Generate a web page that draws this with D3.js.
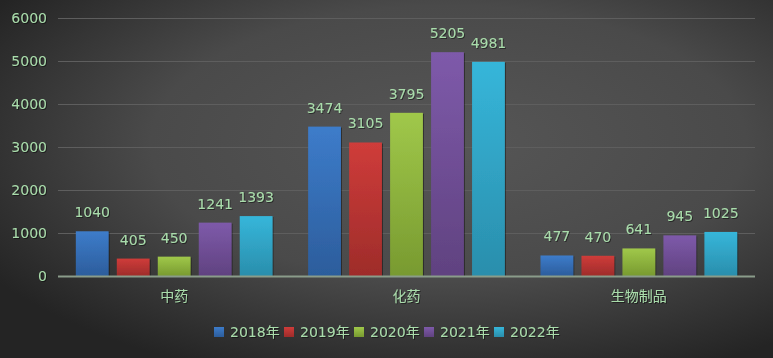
<!DOCTYPE html>
<html><head><meta charset="utf-8">
<script src="https://cdn.jsdelivr.net/npm/d3@7"></script>
<style>
html,body{margin:0;padding:0;background:#333;}
svg{display:block;}
text{font-family:"DejaVu Sans","Noto Sans CJK SC",sans-serif;}
</style></head><body>
<svg id="c" width="773" height="358"></svg>
<script>
const categories = ["中药", "化药", "生物制品"];
const seriesNames = ["2018年", "2019年", "2020年", "2021年", "2022年"];
const v2018 = [1040, 3474, 477];
const v2019 = [405, 3105, 470];
const v2020 = [450, 3795, 641];
const v2021 = [1241, 5205, 945];
const v2022 = [1393, 4981, 1025];
const seriesValues = [v2018, v2019, v2020, v2021, v2022];
const yTicks = [0, 1000, 2000, 3000, 4000, 5000, 6000];
const colorsTop = ["#3d7cca", "#cf3c3a", "#a0c84a", "#7e5aaa", "#36b6da"];
const colorsBot = ["#2c5d9c", "#9e2c2a", "#789a30", "#604280", "#2a8eac"];

(function(){
const W = 773, H = 358;
const svg = d3.select("#c");
const defs = svg.append("defs");

const bg = defs.append("radialGradient").attr("id","bg").attr("cx","0.58").attr("cy","0.4").attr("r","0.7");
bg.append("stop").attr("offset","0").attr("stop-color","#565656");
bg.append("stop").attr("offset","0.55").attr("stop-color","#4a4a4a");
bg.append("stop").attr("offset","1").attr("stop-color","#242424");
svg.append("rect").attr("width",W).attr("height",H).attr("fill","url(#bg)");

colorsTop.forEach((c,i)=>{
  const g = defs.append("linearGradient").attr("id","g"+i).attr("x1",0).attr("y1",0).attr("x2",0).attr("y2",1);
  g.append("stop").attr("offset",0).attr("stop-color",c);
  g.append("stop").attr("offset",1).attr("stop-color",colorsBot[i]);
});
const sh = defs.append("filter").attr("id","ts").attr("x","-20%").attr("y","-20%").attr("width","140%").attr("height","140%");
sh.append("feDropShadow").attr("dx",1).attr("dy",1).attr("stdDeviation",0.6).attr("flood-color","#000").attr("flood-opacity",0.45);

const mL = 58, mR = 755, mT = 18, mB = 276;
const y = d3.scaleLinear().domain([0, 6000]).range([mB, mT]);
const x0 = d3.scaleBand().domain(categories).range([mL, mR]).paddingInner(0).paddingOuter(0);
const x1 = d3.scaleBand().domain(seriesNames).range([17, x0.bandwidth()-17]).paddingInner(0.2).paddingOuter(0.02);

const txtColor = "#a9dcab";

svg.append("g").selectAll("line").data(yTicks.filter(t=>t>0)).join("line")
  .attr("x1", mL).attr("x2", mR)
  .attr("y1", d=>Math.round(y(d))+0.5).attr("y2", d=>Math.round(y(d))+0.5)
  .attr("stroke","#5e5e5e").attr("stroke-width",1);

const yAxis = d3.axisLeft(y).tickValues(yTicks).tickFormat(d3.format("d")).tickSize(0).tickPadding(0);
const ya = svg.append("g").attr("transform",`translate(${mL-11},0)`).call(yAxis);
ya.select(".domain").remove();
ya.selectAll("text").attr("fill",txtColor).attr("font-size",14).attr("font-weight","normal").attr("filter","url(#ts)").attr("dy","0.35em")
  .style("font-family",'"DejaVu Sans","Noto Sans CJK SC",sans-serif');

const groups = svg.append("g").selectAll("g").data(categories).join("g")
  .attr("transform", d=>`translate(${x0(d)},0)`);
groups.each(function(cat, ci){
  const g = d3.select(this);
  const data = seriesNames.map((s,si)=>({s, si, v: seriesValues[si][ci]}));
  g.selectAll("rect").data(data).join("rect")
    .attr("x", d=>x1(d.s)).attr("width", x1.bandwidth())
    .attr("y", d=>y(d.v)).attr("height", d=>mB - y(d.v))
    .attr("fill", d=>`url(#g${d.si})`)
    .attr("filter","url(#ts)");
  g.selectAll("text").data(data).join("text")
    .attr("x", d=>x1(d.s)+x1.bandwidth()/2)
    .attr("y", d=>y(d.v)-14)
    .attr("text-anchor","middle")
    .attr("fill",txtColor).attr("font-size",14)
    .attr("filter","url(#ts)")
    .text(d=>d.v);
});

svg.append("line").attr("x1",mL).attr("x2",mR).attr("y1",mB+0.5).attr("y2",mB+0.5)
  .attr("stroke","#8a9c8a").attr("stroke-width",2);
const xAxis = d3.axisBottom(x0).tickSize(0).tickPadding(0);
const xa = svg.append("g").attr("transform",`translate(0,${mB})`).call(xAxis);
xa.select(".domain").remove();
xa.selectAll("text").attr("fill",txtColor).attr("font-size",14)
  .attr("y",20).attr("dy","0.35em").attr("filter","url(#ts)")
  .style("font-family",'"DejaVu Sans","Noto Sans CJK SC",sans-serif');

const leg = svg.append("g").attr("transform","translate(214,332)");
const li = leg.selectAll("g").data(seriesNames).join("g")
  .attr("transform",(d,i)=>`translate(${i*70},0)`);
li.append("rect").attr("x",0).attr("y",-5).attr("width",10).attr("height",10)
  .attr("fill",(d,i)=>`url(#g${i})`);
li.append("text").attr("x",16).attr("y",0).attr("dy","0.35em")
  .attr("fill",txtColor).attr("font-size",14).attr("filter","url(#ts)")
  .text(d=>d);
})();
</script>
</body></html>
